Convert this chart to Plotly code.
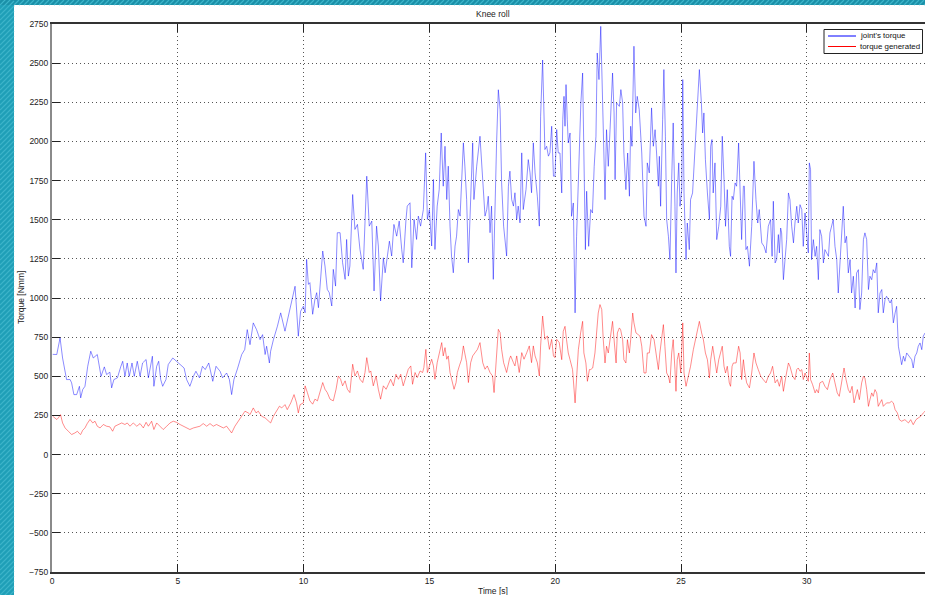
import plotly.graph_objects as go

# Knee roll: joint torque measured vs. torque generated, time in seconds, torque in Nmm
joint_t = [0.03, 0.19, 0.32, 0.42, 0.58, 0.72, 0.78, 0.87, 0.98, 1.09, 1.14, 1.22, 1.31, 1.42, 1.54, 1.64, 1.80, 1.95,
           2.08, 2.17, 2.30, 2.37, 2.46, 2.60, 2.73, 2.81, 2.90, 2.99, 3.07, 3.18, 3.27, 3.39, 3.50, 3.60, 3.74, 3.83,
           3.99, 4.05, 4.16, 4.24, 4.32, 4.40, 4.53, 4.62, 4.80, 4.95, 5.09, 5.25, 5.35, 5.48, 5.62, 5.72, 5.86, 5.98,
           6.09, 6.23, 6.39, 6.52, 6.68, 6.78, 6.94, 7.05, 7.14, 7.23, 7.37, 7.54, 7.66, 7.76, 7.87, 8.00, 8.13, 8.27,
           8.37, 8.47, 8.53, 8.64, 8.69, 8.80, 8.96, 9.09, 9.26, 9.39, 9.53, 9.66, 9.79, 9.88, 9.99, 10.06, 10.12,
           10.19, 10.25, 10.36, 10.45, 10.52, 10.59, 10.68, 10.76, 10.85, 10.94, 11.02, 11.12, 11.18, 11.27, 11.34,
           11.45, 11.55, 11.65, 11.71, 11.78, 11.84, 11.95, 12.04, 12.14, 12.24, 12.37, 12.51, 12.61, 12.71, 12.80,
           12.90, 12.97, 13.06, 13.17, 13.24, 13.33, 13.41, 13.50, 13.59, 13.70, 13.80, 13.90, 13.96, 14.07, 14.12,
           14.23, 14.30, 14.39, 14.49, 14.56, 14.65, 14.76, 14.85, 14.92, 15.00, 15.09, 15.16, 15.22, 15.31, 15.39,
           15.47, 15.55, 15.62, 15.69, 15.75, 15.82, 15.88, 15.95, 16.02, 16.08, 16.15, 16.22, 16.28, 16.35, 16.41,
           16.48, 16.55, 16.64, 16.72, 16.77, 16.88, 17.01, 17.12, 17.21, 17.28, 17.34, 17.41, 17.47, 17.54, 17.61,
           17.67, 17.74, 17.81, 17.87, 17.95, 18.07, 18.14, 18.20, 18.27, 18.34, 18.40, 18.47, 18.53, 18.60, 18.67,
           18.73, 18.84, 18.93, 19.00, 19.06, 19.13, 19.20, 19.29, 19.37, 19.42, 19.50, 19.59, 19.66, 19.73, 19.79,
           19.86, 19.93, 19.99, 20.06, 20.12, 20.19, 20.26, 20.30, 20.35, 20.39, 20.43, 20.48, 20.52, 20.59, 20.65,
           20.72, 20.79, 20.85, 20.96, 21.02, 21.09, 21.14, 21.20, 21.25, 21.33, 21.41, 21.48, 21.55, 21.62, 21.67,
           21.74, 21.81, 21.87, 21.91, 21.98, 22.04, 22.11, 22.18, 22.28, 22.34, 22.38, 22.44, 22.55, 22.61, 22.68,
           22.73, 22.81, 22.88, 22.95, 23.00, 23.05, 23.13, 23.20, 23.26, 23.34, 23.44, 23.53, 23.61, 23.66, 23.74,
           23.83, 23.90, 23.97, 24.03, 24.10, 24.14, 24.19, 24.27, 24.32, 24.38, 24.43, 24.50, 24.56, 24.63, 24.69,
           24.76, 24.80, 24.85, 24.91, 24.96, 25.03, 25.07, 25.12, 25.20, 25.25, 25.33, 25.38, 25.46, 25.56, 25.65,
           25.73, 25.81, 25.86, 25.91, 25.97, 26.05, 26.13, 26.18, 26.23, 26.28, 26.35, 26.42, 26.50, 26.58, 26.64,
           26.71, 26.77, 26.84, 26.92, 26.97, 27.03, 27.08, 27.15, 27.21, 27.29, 27.41, 27.48, 27.52, 27.58, 27.64,
           27.72, 27.81, 27.90, 27.98, 28.05, 28.11, 28.21, 28.30, 28.38, 28.47, 28.56, 28.62, 28.67, 28.74, 28.80,
           28.87, 28.91, 28.96, 29.00, 29.07, 29.13, 29.20, 29.27, 29.33, 29.40, 29.47, 29.53, 29.60, 29.66, 29.73,
           29.80, 29.86, 29.93, 29.99, 30.06, 30.10, 30.15, 30.19, 30.26, 30.33, 30.39, 30.46, 30.52, 30.59, 30.66,
           30.72, 30.79, 30.86, 30.92, 31.05, 31.12, 31.19, 31.25, 31.32, 31.39, 31.45, 31.52, 31.58, 31.65, 31.72,
           31.78, 31.85, 31.92, 31.98, 32.05, 32.11, 32.18, 32.25, 32.31, 32.38, 32.45, 32.51, 32.58, 32.64, 32.71,
           32.78, 32.84, 32.91, 32.98, 33.04, 33.11, 33.17, 33.24, 33.31, 33.37, 33.44, 33.51, 33.57, 33.64, 33.70,
           33.77, 33.84, 33.90, 33.97, 34.08, 34.17, 34.23, 34.30, 34.37, 34.43, 34.50, 34.57, 34.63, 34.70]
joint_torque = [640, 639, 745, 617, 479, 479, 458, 383, 383, 436, 362, 415, 436, 564, 660, 617, 639, 500,
                560, 511, 526, 426, 479, 490, 560, 596, 500, 585, 500, 585, 500, 596, 500, 585, 607, 490,
                628, 436, 564, 596, 479, 436, 479, 575, 617, 596, 575, 553, 479, 436, 500, 532, 490, 564,
                543, 585, 468, 564, 532, 490, 521, 479, 383, 479, 547, 639, 671, 798, 702, 841, 798, 734,
                766, 639, 692, 585, 660, 734, 820, 905, 788, 883, 990, 1075, 756, 915, 947, 906, 1247,
                1087, 1098, 896, 991, 1034, 938, 1161, 1300, 1204, 1055, 1034, 949, 1183, 1076, 1417,
                1417, 1225, 1119, 1374, 1140, 1204, 1661, 1438, 1470, 1310, 1183, 1778, 1459, 1491, 1045,
                1459, 1332, 981, 1257, 1161, 1289, 1363, 1268, 1470, 1395, 1491, 1310, 1225, 1502, 1587,
                1608, 1193, 1502, 1374, 1523, 1459, 1565, 1927, 1502, 1565, 1332, 1757, 1310, 1587, 1693,
                2054, 1714, 1969, 1629, 1842, 1459, 1268, 1161, 1332, 1395, 1565, 1523, 1736, 1991, 1842,
                1629, 1225, 1672, 1991, 1629, 1842, 2033, 1736, 1523, 1565, 1650, 1417, 1587, 1119, 1629,
                1991, 2330, 2203, 1736, 1459, 1268, 1714, 1810, 1629, 1587, 1672, 1502, 1587, 1480, 1927,
                1565, 1693, 1884, 1799, 1672, 1991, 1799, 1650, 1459, 2161, 2520, 1948, 1969, 1906, 1927,
                2097, 1778, 1778, 2076, 1927, 1926, 1671, 2139, 2288, 2097, 2363, 2139, 1990, 2054, 1522,
                1607, 905, 1394, 1926, 2246, 2437, 1926, 1309, 1682, 1330, 1565, 1543, 1841, 2033, 2565,
                2395, 2735, 2352, 2033, 1628, 2075, 1841, 2075, 2437, 2182, 1756, 2246, 2224, 2331, 2246,
                1926, 1692, 1926, 1650, 2097, 1969, 2608, 2182, 2288, 2203, 1926, 1522, 1458, 1863, 1799,
                2214, 1969, 2075, 1926, 1714, 1905, 1586, 2139, 2459, 2033, 1501, 1394, 1245, 1756, 2118,
                1586, 1160, 1671, 1863, 1586, 1692, 2395, 1671, 1245, 1479, 1309, 1628, 1671, 1969, 2246,
                2459, 2246, 2054, 2182, 1884, 1671, 1501, 1969, 2012, 1671, 1863, 1373, 1458, 1586, 2033,
                1756, 1458, 1692, 1330, 1266, 1650, 1628, 1735, 1714, 1990, 1373, 1714, 1714, 1309, 1330,
                1203, 1458, 1873, 1628, 1479, 1565, 1352, 1330, 1288, 1458, 1501, 1266, 1618, 1224, 1245,
                1405, 1288, 1447, 1416, 1117, 1245, 1373, 1671, 1628, 1458, 1352, 1479, 1586, 1479, 1596,
                1565, 1330, 1543, 1416, 1288, 1863, 1820, 1245, 1373, 1266, 1330, 1117, 1437, 1394, 1224,
                1309, 1288, 1266, 1416, 1501, 1330, 1245, 1032, 1203, 1373, 1586, 1352, 1394, 1160, 1245,
                1032, 1139, 936, 1160, 1181, 926, 1032, 1373, 1416, 1373, 1054, 1139, 1117, 1181, 1160,
                1224, 905, 1032, 1054, 905, 990, 1011, 990, 968, 990, 841, 905, 947, 692, 628,
                574, 628, 596, 649, 628, 606, 553, 628, 649, 692, 713, 670, 756, 777]

gen_t = [0.03, 0.19, 0.25, 0.34, 0.42, 0.52, 0.65, 0.78, 0.91, 1.01, 1.09, 1.14, 1.22, 1.31, 1.40, 1.51, 1.62, 1.71,
         1.80, 1.91, 2.04, 2.17, 2.30, 2.41, 2.50, 2.64, 2.77, 2.90, 2.99, 3.10, 3.23, 3.37, 3.50, 3.63, 3.74, 3.83,
         3.96, 4.05, 4.16, 4.29, 4.42, 4.56, 4.69, 4.82, 4.95, 5.09, 5.22, 5.35, 5.48, 5.62, 5.75, 5.88, 6.01, 6.15,
         6.28, 6.41, 6.54, 6.68, 6.81, 6.94, 7.05, 7.14, 7.27, 7.41, 7.54, 7.67, 7.80, 7.87, 8.00, 8.11, 8.20, 8.33,
         8.47, 8.60, 8.69, 8.80, 8.93, 9.04, 9.13, 9.26, 9.35, 9.49, 9.62, 9.72, 9.79, 9.86, 9.99, 10.06, 10.15,
         10.25, 10.36, 10.45, 10.55, 10.65, 10.76, 10.85, 10.94, 11.05, 11.18, 11.29, 11.38, 11.47, 11.55, 11.65,
         11.74, 11.84, 11.95, 12.04, 12.14, 12.24, 12.35, 12.44, 12.51, 12.61, 12.67, 12.77, 12.88, 12.97, 13.06,
         13.17, 13.28, 13.37, 13.46, 13.57, 13.67, 13.77, 13.86, 13.96, 14.07, 14.16, 14.26, 14.33, 14.43, 14.52,
         14.63, 14.73, 14.78, 14.86, 14.92, 15.00, 15.09, 15.16, 15.22, 15.31, 15.42, 15.49, 15.55, 15.62, 15.69,
         15.75, 15.82, 15.89, 15.98, 16.06, 16.11, 16.19, 16.28, 16.35, 16.41, 16.48, 16.55, 16.64, 16.72, 16.81,
         16.91, 17.01, 17.12, 17.21, 17.30, 17.41, 17.51, 17.57, 17.65, 17.74, 17.81, 17.87, 17.95, 18.07, 18.18,
         18.23, 18.34, 18.40, 18.47, 18.57, 18.67, 18.76, 18.87, 18.97, 19.06, 19.13, 19.20, 19.29, 19.37, 19.42,
         19.50, 19.59, 19.69, 19.77, 19.86, 19.93, 19.99, 20.06, 20.16, 20.26, 20.32, 20.39, 20.45, 20.52, 20.59,
         20.69, 20.79, 20.85, 20.92, 21.01, 21.09, 21.14, 21.22, 21.28, 21.36, 21.41, 21.49, 21.58, 21.65, 21.71,
         21.78, 21.85, 21.91, 21.98, 22.04, 22.11, 22.18, 22.28, 22.34, 22.42, 22.47, 22.55, 22.60, 22.68, 22.73,
         22.81, 22.87, 22.95, 23.00, 23.08, 23.13, 23.21, 23.30, 23.37, 23.44, 23.53, 23.61, 23.66, 23.74, 23.83,
         23.93, 24.01, 24.10, 24.16, 24.23, 24.30, 24.36, 24.43, 24.50, 24.56, 24.63, 24.69, 24.76, 24.80, 24.85,
         24.91, 24.99, 25.07, 25.12, 25.20, 25.29, 25.38, 25.49, 25.62, 25.73, 25.82, 25.89, 25.97, 26.05, 26.13,
         26.18, 26.26, 26.35, 26.42, 26.50, 26.58, 26.64, 26.71, 26.77, 26.84, 26.92, 26.97, 27.03, 27.08, 27.19,
         27.29, 27.35, 27.41, 27.48, 27.54, 27.61, 27.72, 27.81, 27.90, 27.98, 28.07, 28.17, 28.27, 28.38, 28.47,
         28.56, 28.64, 28.74, 28.83, 28.91, 29.00, 29.07, 29.17, 29.27, 29.33, 29.44, 29.53, 29.60, 29.66, 29.73,
         29.80, 29.86, 29.93, 29.99, 30.06, 30.10, 30.15, 30.23, 30.33, 30.39, 30.46, 30.52, 30.63, 30.72, 30.82,
         30.92, 31.03, 31.12, 31.21, 31.29, 31.39, 31.48, 31.56, 31.65, 31.72, 31.80, 31.88, 31.96, 32.01, 32.09,
         32.18, 32.25, 32.31, 32.38, 32.45, 32.51, 32.58, 32.64, 32.71, 32.78, 32.84, 32.91, 32.98, 33.04, 33.17,
         33.28, 33.37, 33.44, 33.51, 33.60, 33.68, 33.77, 33.90, 34.04, 34.13, 34.23, 34.34, 34.43, 34.53, 34.63,
         34.70]
gen_torque = [245, 224, 234, 255, 202, 170, 149, 128, 138, 149, 134, 128, 155, 170, 198, 224, 202, 213,
              181, 170, 192, 181, 177, 149, 181, 192, 202, 192, 202, 181, 202, 181, 198, 170, 206, 181,
              213, 160, 202, 181, 160, 181, 202, 213, 206, 192, 181, 170, 160, 170, 177, 181, 198, 181,
              198, 181, 192, 181, 170, 181, 160, 138, 181, 213, 245, 277, 266, 255, 298, 266, 277, 245,
              234, 213, 202, 245, 277, 309, 298, 319, 287, 330, 383, 330, 266, 319, 330, 439, 396,
              343, 322, 354, 343, 396, 460, 417, 396, 354, 343, 417, 502, 481, 439, 471,
              417, 396, 577, 502, 534, 481, 460, 524, 619, 524, 534, 439, 502, 417, 354,
              439, 417, 449, 481, 439, 513, 481, 513, 439, 502, 545, 566, 449, 524, 492,
              534, 524, 556, 672, 524, 566, 609, 566, 481, 587, 672, 715, 630, 683, 609,
              630, 524, 481, 417, 460, 524, 566, 609, 694, 630, 587, 460, 587, 630, 651,
              672, 715, 587, 545, 566, 524, 502, 396, 566, 800, 779, 672, 587, 524, 609,
              630, 587, 566, 630, 524, 651, 609, 651, 694, 587, 694, 630, 587, 502, 694,
              885, 736, 758, 672, 736, 630, 619, 736, 715, 606, 787, 819, 734, 649, 606,
              543, 330, 500, 670, 777, 851, 649, 585, 468, 543, 543, 553, 649, 798, 904,
              958, 926, 734, 585, 692, 649, 734, 851, 734, 585, 777, 809, 798, 734, 606,
              585, 734, 649, 734, 904, 841, 777, 766, 756, 692, 521, 521, 649, 649, 766,
              734, 649, 543, 649, 756, 830, 692, 521, 500, 457, 649, 734, 543, 404, 606,
              649, 521, 841, 521, 436, 500, 564, 670, 777, 851, 777, 734, 649, 606, 489,
              606, 692, 585, 521, 606, 649, 692, 564, 521, 564, 457, 436, 564, 585, 585,
              692, 649, 479, 606, 521, 458, 426, 521, 649, 585, 543, 500, 479, 458, 500,
              521, 564, 458, 479, 436, 500, 404, 500, 585, 564, 500, 479, 543, 553, 532,
              543, 479, 521, 500, 468, 649, 479, 447, 394, 415, 394, 458, 468, 436, 415,
              479, 521, 458, 394, 372, 479, 553, 479, 415, 394, 436, 330, 394, 415, 351,
              458, 500, 489, 415, 308, 351, 394, 372, 415, 394, 308, 330, 351, 308, 330,
              330, 340, 330, 287, 266, 223, 213, 223, 202, 223, 191, 223, 234, 245, 266,
              277]

series_names = ["joint's torque", "torque generated"]
series_colors = ["#0000ff", "#ff0000"]
x_tick_values = [0, 5, 10, 15, 20, 25, 30]
y_tick_values = [-750, -500, -250, 0, 250, 500, 750, 1000, 1250, 1500, 1750, 2000, 2250, 2500, 2750]

W, H = 925, 595
ML, MR, MT, MB = 52, 0, 24, 23
PW, PH = W - ML - MR, H - MT - MB


def px(xp):
    """page x pixel -> paper coordinate"""
    return (xp - ML) / PW


def py(yp):
    """page y pixel -> paper coordinate"""
    return (H - MB - yp) / PH


FONT = "Liberation Sans, Arial, Helvetica, sans-serif"
TRACE_RGBA = ["rgba(0,0,255,0.5)", "rgba(255,0,0,0.5)"]

fig = go.Figure()
for tt, vv, name, col in [(joint_t, joint_torque, series_names[0], TRACE_RGBA[0]),
                          (gen_t, gen_torque, series_names[1], TRACE_RGBA[1])]:
    fig.add_trace(go.Scatter(x=tt, y=vv, mode="lines", name=name,
                             line=dict(color=col, width=0.9), showlegend=False))

# teal patterned frame along the left and top edges of the page
teal = "#1f9fb7"
stripe = "#3db4c9"
shapes = [
    dict(type="rect", xref="paper", yref="paper", x0=px(0), x1=px(14), y0=py(H), y1=py(0),
         fillcolor=teal, line=dict(width=0), layer="below"),
    dict(type="rect", xref="paper", yref="paper", x0=px(0), x1=px(W), y0=py(5), y1=py(0),
         fillcolor="#1b90a8", line=dict(width=0), layer="below"),
]
segs = []
for k in range(0, H + 20, 5):
    segs.append(f"M{px(0):.5f},{py(k):.5f} L{px(14):.5f},{py(k - 14):.5f}")
for k in range(14, W + 10, 5):
    segs.append(f"M{px(k):.5f},{py(5):.5f} L{px(k + 5):.5f},{py(0):.5f}")
shapes.append(dict(type="path", xref="paper", yref="paper", path=" ".join(segs),
                   line=dict(color=stripe, width=1.2), layer="below"))

# legend box in the upper right corner of the axes
shapes.append(dict(type="rect", xref="paper", yref="paper", x0=px(824), x1=px(922.5), y0=py(53.5), y1=py(29.5),
                   fillcolor="white", line=dict(color="#222", width=1), layer="above"))
legend_rows = [36, 46.5]
annotations = []
for row_y, name, col in zip(legend_rows, series_names, series_colors):
    shapes.append(dict(type="line", xref="paper", yref="paper", x0=px(828), x1=px(856), y0=py(row_y), y1=py(row_y),
                       line=dict(color=col, width=1), layer="above"))
    annotations.append(dict(text=name, x=px(857.5), y=py(row_y), xref="paper", yref="paper", showarrow=False,
                            xanchor="left", yanchor="middle", font=dict(size=7.9, color="#111")))

annotations += [
    dict(text="Knee roll", x=px(493), y=py(14), xref="paper", yref="paper", showarrow=False,
         xanchor="center", yanchor="middle", font=dict(size=8.5, color="#222")),
    dict(text="Time [s]", x=px(493), y=py(591), xref="paper", yref="paper", showarrow=False,
         xanchor="center", yanchor="middle", font=dict(size=8.5, color="#222")),
    dict(text="Torque [Nmm]", x=px(21), y=0.5, xref="paper", yref="paper", showarrow=False,
         textangle=-90, xanchor="center", yanchor="middle", font=dict(size=8.5, color="#222")),
]

fig.update_layout(
    width=W, height=H,
    margin=dict(l=ML, r=MR, t=MT, b=MB, pad=0, autoexpand=False),
    paper_bgcolor="white", plot_bgcolor="white",
    font=dict(family=FONT, size=8.5, color="#222"),
    shapes=shapes, annotations=annotations,
    showlegend=False,
)
fig.update_xaxes(range=[0, (W - ML) / 25.16], tickvals=x_tick_values,
                 ticks="inside", ticklen=8, tickwidth=1, tickcolor="#222",
                 showline=True, linecolor="#333", linewidth=1.5, mirror="allticks",
                 showgrid=True, gridcolor="#555", gridwidth=1, griddash="1px,3px",
                 zeroline=False, tickfont=dict(size=8.5, color="#222"))
fig.update_yaxes(range=[-750, 2750], tickvals=y_tick_values,
                 ticks="inside", ticklen=8, tickwidth=1, tickcolor="#222",
                 showline=True, linecolor="#8a8a8a", linewidth=2,
                 showgrid=True, gridcolor="#555", gridwidth=1, griddash="1px,3px",
                 zeroline=False, tickfont=dict(size=8.5, color="#222"))

fig.write_html("out.html")
